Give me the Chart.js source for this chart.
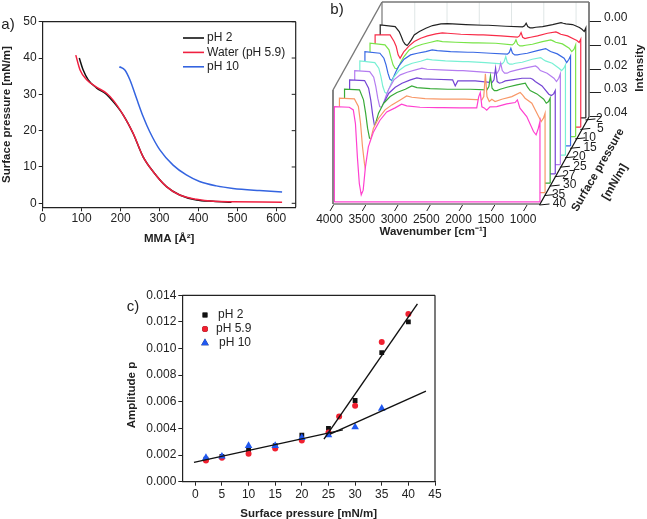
<!DOCTYPE html>
<html>
<head>
<meta charset="utf-8">
<title>Surface pressure panels</title>
<script src="https://cdn.jsdelivr.net/npm/chart.js@4"></script>
<style>
  html, body { margin: 0; padding: 0; background: #fff; }
  #page { position: relative; width: 647px; height: 519px; overflow: hidden; }
  canvas { position: absolute; }
</style>
</head>
<body>
<div id="page">
  <canvas id="panelA" width="320" height="246" style="left:0;top:0"></canvas>
  <canvas id="panelB" width="347" height="245" style="left:300px;top:0"></canvas>
  <canvas id="panelC" width="330" height="261" style="left:120px;top:260px"></canvas>
</div>
<script>
// Panel a: isotherms
const MMA_PH2 = [94, 104, 117, 138, 164, 181, 207, 232, 258, 284, 318, 352, 395, 438, 485];
const PRESS_PH2 = [40, 36.7, 34, 31.8, 30, 28, 24.3, 19.3, 12.8, 8.7, 4.6, 2.3, 0.9, 0.55, 0.3];
const MMA_WATER = [85, 96, 113, 138, 164, 181, 207, 232, 258, 284, 318, 352, 395, 438, 489, 615];
const PRESS_WATER = [40.8, 36.7, 34, 32, 30.3, 28.4, 24.3, 19.4, 12.8, 8.7, 4.6, 2.3, 1.1, 0.55, 0.45, 0.3];
const MMA_PH10 = [197, 211, 224, 241, 258, 275, 301, 335, 369, 403, 446, 489, 557, 615];
const PRESS_PH10 = [37.6, 36.7, 34, 28.9, 23.9, 19.7, 14.7, 10.5, 7.8, 6, 4.8, 4.1, 3.5, 3.1];

// Panel b: spectra, intensity in units of 1/7130 (front trace first)
const WAVENUMBERS = [3987, 3755, 3693, 3660, 3630, 3600, 3570, 3540, 3505, 3460, 3380, 3280, 3175, 3045, 2945, 2865, 2660,
  2390, 2350, 2310, 2040, 1780, 1750, 1725, 1700, 1665, 1625, 1575, 1470, 1315, 1185, 1150, 1110, 1005, 900, 860, 825, 800];
const SPEC_40 = [-1, 1, 9, 50, 150, 230, 264, 250, 180, 120, 75, 40, 15, 3, -8, -3, 1, 2, 2, 2, 3, 3, -30, -43, 0, 3, 10, 0, -1, -9, -13, -21, 4, 29, 74, 84, 64, 44];
const SPEC_35 = [2, 4, 27, 77, 147, 197, 232, 180, 127, 92, 62, 37, 22, 7, -5, -1, 3, 5, 5, 5, 5, 7, -3, -71, -3, 12, 5, 12, 5, -3, -15, -8, 2, 17, 57, 72, 62, 47];
const SPEC_30 = [3, 5, 35, 75, 120, 150, 153, 135, 105, 75, 45, 25, 13, 3, -7, -2, 1, 3, 3, 3, 3, 5, -5, -37, 0, 7, 7, 3, -3, -10, -15, -3, 7, 17, 33, 45, 40, 30];
const SPEC_27 = [3, 5, 28, 63, 108, 143, 148, 131, 103, 73, 43, 25, 13, 3, -3, 0, 1, 3, 21, 6, 6, 11, 3, -32, 8, 13, 11, 6, 3, -2, -2, 1, 8, 21, 46, 50, 45, 35];
const SPEC_25 = [3, 6, 23, 51, 86, 111, 114, 101, 81, 59, 31, 16, 8, 1, -4, -1, 1, 3, 3, 3, 7, 11, 1, -19, 3, 11, 11, 6, 1, -6, -11, -6, 3, 11, 26, 36, 26, 13];
const SPEC_20 = [2, 7, 24, 49, 79, 96, 100, 89, 71, 51, 31, 17, 9, 3, -3, -1, 2, 4, 4, 4, 7, 11, 4, -11, 7, 12, 12, 9, 6, -3, -8, -3, 2, 9, 24, 31, 24, 14];
const SPEC_15 = [2, 7, 22, 42, 67, 85, 89, 77, 62, 45, 25, 12, 7, 2, -3, -1, 2, 4, 4, 4, 7, 10, 5, -8, 7, 12, 12, 10, 7, -1, -7, -3, 2, 9, 22, 35, 25, 15];
const SPEC_10 = [5, 10, 25, 50, 70, 80, 82, 75, 60, 45, 25, 15, 8, 2, -3, 0, 2, 4, 4, 4, 5, 10, 5, -5, 8, 13, 13, 11, 8, 0, -5, -2, 2, 7, 20, 30, 23, 10];
const SPEC_5 = [8, 8, 28, 43, 68, 78, 68, 58, 51, 41, 28, 18, 11, 5, 2, 3, 6, 8, 8, 8, 11, 15, 11, 1, 15, 19, 17, 15, 11, 3, -1, 2, 6, 11, 21, 25, 31, 21];
const SPEC_2 = [6, 11, 26, 41, 56, 64, 68, 61, 51, 36, 26, 16, 8, 3, 2, 3, 5, 7, 7, 7, 10, 12, 9, 1, 11, 15, 15, 13, 11, 5, -1, 1, 3, 5, 14, 19, 26, 15];
const SPECTRA = [SPEC_40, SPEC_35, SPEC_30, SPEC_27, SPEC_25, SPEC_20, SPEC_15, SPEC_10, SPEC_5, SPEC_2];
const SPEC_COLORS = ['#ff40d0', '#f89868', '#38aa38', '#7444d4', '#b47cf0', '#78f0d4', '#3868e4', '#78e448', '#f82c48', '#222222'];
const DEPTH_LABELS = ['40', '35', '30', '27', '25', '20', '15', '10', '5', '2'];
const WAVE_TICKS = [4000, 3500, 3000, 2500, 2000, 1500, 1000];
const INTENSITY_TICKS = [0, 0.01, 0.02, 0.03, 0.04];

// Panel c: amplitude
const PRESS_X = [2, 5, 10, 15, 20, 25, 30, 35, 40];
const AMP_PH2 = [0.0017, 0.0019, 0.0024, 0.0027, 0.0035, 0.0040, 0.0061, 0.0097, 0.0120];
const PRESS_X_59 = [2, 5, 10, 15, 20, 25, 27, 30, 35, 40];
const AMP_PH59 = [0.0016, 0.0018, 0.0021, 0.0025, 0.0031, 0.0037, 0.0049, 0.0057, 0.0105, 0.0126];
const PRESS_X_10 = [2, 5, 10, 15, 20, 25, 30, 35];
const AMP_PH10 = [0.0018, 0.0019, 0.0027, 0.0027, 0.0033, 0.0035, 0.0041, 0.0055];
const FIT_LOW_X = [-0.25, 27.7];
const FIT_LOW_Y = [0.00145, 0.00389];
const FIT_STEEP_X = [24.15, 41.7];
const FIT_STEEP_Y = [0.0032, 0.01335];
const FIT_HIGH_X = [25.3, 43.3];
const FIT_HIGH_Y = [0.00358, 0.00681];

const INK = '#222';
const SANS = '"Liberation Sans", Arial, sans-serif';
const TICK_FONT = { family: SANS, size: 12 };
const TITLE_FONT = { family: SANS, size: 11.5, weight: 'bold' };

const zip = (xs, ys) => xs.map((x, i) => ({ x, y: ys[i] }));

function text(ctx, str, x, y, font, rotate) {
    ctx.save();
    ctx.translate(x, y);
    if (rotate) ctx.rotate(rotate);
    ctx.font = font;
    ctx.fillStyle = INK;
    ctx.textAlign = 'center';
    ctx.textBaseline = 'middle';
    ctx.fillText(str, 0, 0);
    ctx.restore();
}

function line(ctx, x1, y1, x2, y2, color, width) {
    ctx.beginPath();
    ctx.moveTo(x1, y1);
    ctx.lineTo(x2, y2);
    ctx.strokeStyle = color;
    ctx.lineWidth = width;
    ctx.stroke();
}

// Force the plot area to a known box
function sized(size, axis) {
    return Object.assign({
        afterFit: s => {
            if (s.isHorizontal()) s.height = size; else s.width = size;
            s.paddingTop = s.paddingBottom = s.paddingLeft = s.paddingRight = 0;
        }
    }, axis);
}

function axis(min, max, step, title, fmt, pad) {
    return {
        type: 'linear',
        min, max,
        title: { display: !!title, text: title, font: TITLE_FONT, color: INK, padding: 0 },
        border: { color: INK, width: 1.2 },
        grid: { drawOnChartArea: false, color: INK, tickLength: 4 },
        ticks: { stepSize: step, includeBounds: false, font: TICK_FONT, color: INK, padding: pad, maxRotation: 0, callback: fmt }
    };
}

// ---- Panel a ----
const aLegend = {
    id: 'aLegend',
    afterDraw(chart) {
        const { ctx, chartArea: ca, scales } = chart;
        line(ctx, ca.left, ca.top, ca.right, ca.top, INK, 1.2);
        line(ctx, ca.right, ca.top, ca.right, ca.bottom, INK, 1.2);
        scales.y.ticks.forEach(t => {
            const y = scales.y.getPixelForValue(t.value);
            line(ctx, ca.right - 4, y, ca.right, y, INK, 1);
        });
        chart.data.datasets.forEach((d, i) => {
            const y = 38 + i * 14.4;
            line(ctx, 183, y, 204, y, d.borderColor, 1.6);
            ctx.font = '12px ' + SANS;
            ctx.fillStyle = INK;
            ctx.textAlign = 'left';
            ctx.textBaseline = 'middle';
            ctx.fillText(d.label, 207, y);
        });
        text(ctx, 'a)', 8, 25, '15px ' + SANS);
    }
};

new Chart(document.getElementById('panelA'), {
    type: 'line',
    data: {
        datasets: [
            { label: 'pH 2', data: zip(MMA_PH2, PRESS_PH2), borderColor: '#111', order: 2 },
            { label: 'Water (pH 5.9)', data: zip(MMA_WATER, PRESS_WATER), borderColor: '#f02040', order: 1 },
            { label: 'pH 10', data: zip(MMA_PH10, PRESS_PH10), borderColor: '#3464e0', order: 0 }
        ].map(d => Object.assign(d, { borderWidth: 1.5, pointRadius: 0, cubicInterpolationMode: 'monotone' }))
    },
    options: {
        responsive: false,
        animation: false,
        layout: { padding: { top: 21.7, right: 24.3 } },
        plugins: { legend: { display: false }, tooltip: { enabled: false } },
        scales: {
            x: sized(38.7, axis(0, 650, 100, 'MMA [Å²]', v => v, 0)),
            y: sized(42.7, axis(-1.1, 50, 10, 'Surface pressure [mN/m]', v => v, 2))
        }
    },
    plugins: [aLegend]
});

// ---- Panel b ----
const STEP_W = 79;      // cm-1 per trace to the right
const STEP_I = 0.00393; // intensity units per trace upward
const TOP_I = 0.0005;
const BASE_I = 0.04;
const OX = 20;          // canvas is 20px wider on the left for the 4000 label

// Position of a trace point, shifted back by k traces
const projX = (w, k) => w - k * STEP_W;
const projY = (i, k) => i + (9 - k) * STEP_I + TOP_I;

const traceSets = [];
SPECTRA.forEach((spec, k) => {
    const first = WAVENUMBERS[0];
    const last = WAVENUMBERS[WAVENUMBERS.length - 1];
    const pts = [{ x: projX(first, k), y: projY(BASE_I, k) }];
    spec.forEach((v, i) => pts.push({ x: projX(WAVENUMBERS[i], k), y: projY(v / 7130, k) }));
    pts.push({ x: projX(last, k), y: projY(BASE_I, k) });
    const baseY = projY(BASE_I, k);
    traceSets.push({
        data: pts, borderColor: SPEC_COLORS[k], borderWidth: 1.2, pointRadius: 0, tension: 0,
        backgroundColor: '#fff', fill: { value: baseY }, order: 2 * k + 1
    });
    traceSets.push({
        data: [pts[0], pts[pts.length - 1]], borderColor: SPEC_COLORS[k], borderWidth: 1.2,
        pointRadius: 0, fill: false, order: 2 * k
    });
});

const frameB = {
    id: 'frameB',
    beforeDatasetsDraw(chart) {
        const { ctx } = chart;
        const grey = '#777';
        // back wall grid
        const xs = chart.scales.x;
        WAVE_TICKS.slice(1).forEach(w => {
            const x = xs.getPixelForValue(w) + 49;
            line(ctx, x, 2, x, 115, '#dfe6e6', 1);
        });
        line(ctx, OX + 13, 204, OX + 13, 90, grey, 1.8);
        line(ctx, OX + 13, 90, OX + 62, 2, grey, 1.4);
        line(ctx, OX + 62, 2, OX + 269, 2, grey, 1.4);
        line(ctx, OX + 62, 2, OX + 62, 30, grey, 1.2);
        line(ctx, OX + 269, 2, OX + 269, 117, grey, 1.8);
        line(ctx, OX + 13, 204, OX + 219.5, 204, grey, 1.6);
    },
    afterDraw(chart) {
        const { ctx, scales } = chart;
        // slanted wavenumber ticks
        WAVE_TICKS.forEach(w => {
            const x = scales.x.getPixelForValue(w);
            line(ctx, x, 205, x - 3.5, 211, INK, 1);
        });
        // depth axis
        line(ctx, OX + 219.5, 205, OX + 269, 117, '#111', 1.2);
        DEPTH_LABELS.forEach((lab, k) => {
            const x = OX + 219.5 + 5.1 * k;
            const y = 205 - 9.45 * k;
            line(ctx, x, y, x + 10, y - 1, '#111', 1);
            text(ctx, lab, x + (k % 2 ? 14 : 20), y - 1, '12px ' + SANS);
        });
        text(ctx, 'Surface pressure', OX + 278, 170, 'bold 11.5px ' + SANS, -Math.PI / 3);
        text(ctx, '[mN/m]', OX + 295, 182, 'bold 11.5px ' + SANS, -Math.PI / 3);
        text(ctx, 'Intensity', OX + 320, 68, 'bold 11.5px ' + SANS, -Math.PI / 2);
        text(ctx, 'Wavenumber [cm⁻¹]', OX + 113, 232, 'bold 11.5px ' + SANS);
        text(ctx, 'b)', OX + 17, 10, '15px ' + SANS);
    }
};

new Chart(document.getElementById('panelB'), {
    type: 'line',
    data: { datasets: traceSets },
    options: {
        responsive: false,
        animation: false,
        layout: { padding: { left: 33.5, right: 0 } },
        plugins: { legend: { display: false }, tooltip: { enabled: false } },
        scales: {
            x: sized(41, {
                type: 'linear', reverse: true, min: 40, max: 4000,
                afterBuildTicks: s => { s.ticks = WAVE_TICKS.map(value => ({ value })); },
                border: { display: false },
                grid: { display: false, drawTicks: false },
                ticks: { font: TICK_FONT, color: INK, padding: 8, labelOffset: -4, autoSkip: false, maxRotation: 0, callback: v => v }
            }),
            y: sized(58, {
                type: 'linear', position: 'right', reverse: true, min: -0.00914, max: 0.07676,
                afterBuildTicks: s => { s.ticks = INTENSITY_TICKS.map(value => ({ value })); },
                border: { display: false },
                grid: { drawOnChartArea: false, color: INK, tickLength: 12 },
                ticks: { font: TICK_FONT, color: INK, padding: 3, labelOffset: -4, autoSkip: false, callback: v => v.toFixed(2) }
            })
        }
    },
    plugins: [frameB]
});

// ---- Panel c ----
const cLegend = {
    id: 'cLegend',
    afterDraw(chart) {
        const { ctx, chartArea: ca } = chart;
        line(ctx, ca.left, ca.top, ca.right, ca.top, INK, 1.2);
        line(ctx, ca.right, ca.top, ca.right, ca.bottom, INK, 1.2);
        const rows = [[55, 98], [69, 96], [83, 99]];
        chart.data.datasets.slice(0, 3).forEach((d, i) => {
            Chart.helpers.drawPoint(ctx, { pointStyle: d.pointStyle, radius: d.pointRadius, rotation: 0, borderWidth: 0 }, 85, rows[i][0]);
            ctx.fillStyle = d.backgroundColor;
            ctx.fill();
            ctx.font = '12px ' + SANS;
            ctx.fillStyle = INK;
            ctx.textAlign = 'left';
            ctx.textBaseline = 'middle';
            ctx.fillText(d.label, rows[i][1], rows[i][0]);
        });
        text(ctx, 'Amplitude p', 12, 135, 'bold 11.5px ' + SANS, -Math.PI / 2);
        text(ctx, 'c)', 13, 47, '15px ' + SANS);
    }
};

function fitLine(xs, ys) {
    return { data: zip(xs, ys), borderColor: '#111', borderWidth: 1.4, pointRadius: 0, showLine: true, order: 0 };
}

new Chart(document.getElementById('panelC'), {
    type: 'line',
    data: {
        datasets: [
            { label: 'pH 2', data: zip(PRESS_X, AMP_PH2), backgroundColor: '#111', pointStyle: 'rect', pointRadius: 3.4, showLine: false, order: 3 },
            { label: 'pH 5.9', data: zip(PRESS_X_59, AMP_PH59), backgroundColor: '#f02030', pointStyle: 'circle', pointRadius: 3, showLine: false, order: 2 },
            { label: 'pH 10', data: zip(PRESS_X_10, AMP_PH10), backgroundColor: '#2058f0', pointStyle: 'triangle', pointRadius: 4.4, showLine: false, order: 1 },
            fitLine(FIT_LOW_X, FIT_LOW_Y),
            fitLine(FIT_STEEP_X, FIT_STEEP_Y),
            fitLine(FIT_HIGH_X, FIT_HIGH_Y)
        ]
    },
    options: {
        responsive: false,
        animation: false,
        layout: { padding: { top: 35.3, right: 15 } },
        elements: { point: { borderWidth: 0 } },
        plugins: { legend: { display: false }, tooltip: { enabled: false } },
        scales: {
            x: sized(39.3, axis(-2.44, 45, 5, 'Surface pressure [mN/m]', v => v, 2)),
            y: sized(62.3, axis(0, 0.014, 0.002, '', v => v.toFixed(3), 2))
        }
    },
    plugins: [cLegend]
});
</script>
</body>
</html>
